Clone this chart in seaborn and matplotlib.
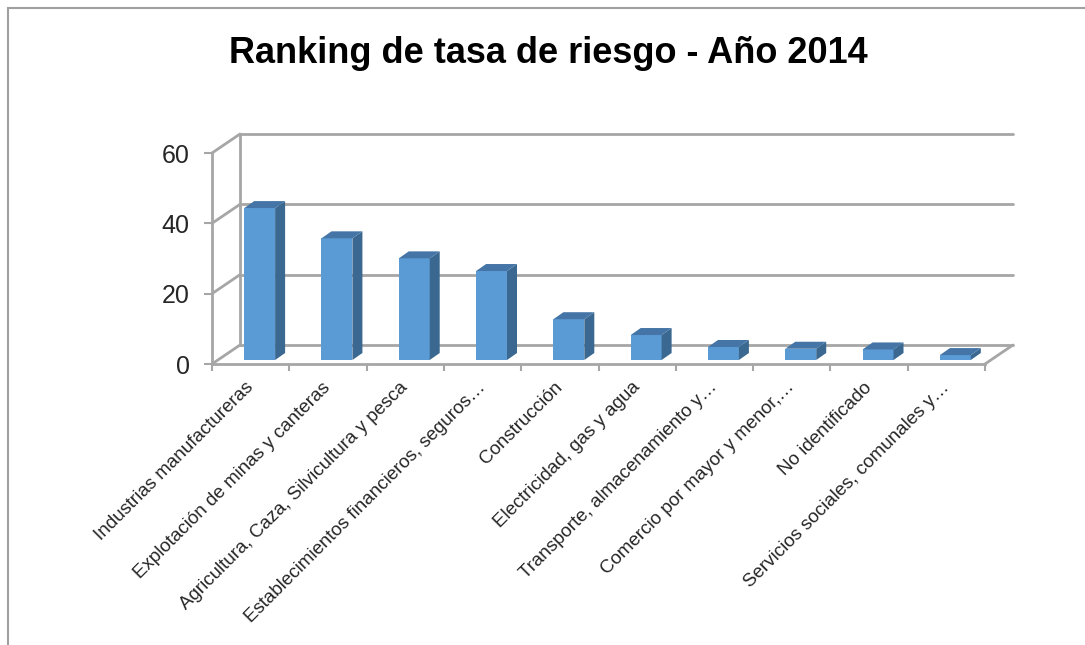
import matplotlib
matplotlib.use("Agg")
import matplotlib.pyplot as plt
import matplotlib.transforms as mtransforms
from matplotlib.patches import Polygon, Rectangle
import seaborn as sns
import pandas as pd

categories = [
    "Industrias manufactureras",
    "Explotación de minas y canteras",
    "Agricultura, Caza, Silvicultura y pesca",
    "Establecimientos financieros, seguros…",
    "Construcción",
    "Electricidad, gas y agua",
    "Transporte, almacenamiento y…",
    "Comercio por mayor y menor,…",
    "No identificado",
    "Servicios sociales, comunales y…",
]
values = [43.2, 34.6, 28.9, 25.3, 11.6, 7.1, 3.7, 3.2, 3.0, 1.4]
yticks = [0, 20, 40, 60]
title = "Ranking de tasa de riesgo - Año 2014"

FRONT = "#5b9bd5"
SIDE = "#3a6890"
TOP = "#4475a6"
GRID = "#a6a6a6"

sns.set_theme(style="white")
plt.rcParams["font.family"] = ["Liberation Sans", "DejaVu Sans"]

W, H = 1085, 645
fig = plt.figure(figsize=(W / 100, H / 100), dpi=100)
# axes: x -0.5..9.5 -> 212..985 px, y 0..60 -> 364..153 px
ax = fig.add_axes([212 / W, (H - 364) / H, (985 - 212) / W, (364 - 153) / H])
ax.set_xlim(-0.5, len(categories) - 0.5)
ax.set_ylim(0, 60)

df = pd.DataFrame({"cat": categories, "val": values})
sns.barplot(data=df, x="cat", y="val", color=FRONT, saturation=1, width=0.4,
            ax=ax, edgecolor="none", zorder=5)

# pixel -> data conversions
px_x = (len(categories)) / (985 - 212)
px_y = 60 / (364 - 153)

bar_shift = mtransforms.ScaledTranslation(9 / 100, 4 / 100, fig.dpi_scale_trans)
back_shift = mtransforms.ScaledTranslation(28 / 100, 19 / 100, fig.dpi_scale_trans)
dx, dy = 10 * px_x, 7 * px_y

for p in list(ax.patches):
    p.set_transform(ax.transData + bar_shift)
    p.set_clip_on(False)
    x0, w, h = p.get_x(), p.get_width(), p.get_height()
    side = Polygon([(x0 + w, 0), (x0 + w + dx, dy), (x0 + w + dx, h + dy), (x0 + w, h)],
                   closed=True, facecolor=SIDE, edgecolor="none",
                   transform=ax.transData + bar_shift, clip_on=False, zorder=5)
    top = Polygon([(x0, h), (x0 + w, h), (x0 + w + dx, h + dy), (x0 + dx, h + dy)],
                  closed=True, facecolor=TOP, edgecolor="none",
                  transform=ax.transData + bar_shift, clip_on=False, zorder=5)
    ax.add_patch(side)
    ax.add_patch(top)

xl, xr = -0.5, len(categories) - 0.5
back = ax.transData + back_shift
# back wall gridlines
for t in yticks:
    ax.plot([xl, xr], [t, t], color=GRID, lw=2, transform=back, clip_on=False, zorder=1)
# left wall: vertical back edge and diagonals
ax.plot([xl, xl], [0, 60], color=GRID, lw=2, transform=back, clip_on=False, zorder=1)
for t in yticks:
    ax.plot([xl, xl + 28 * px_x], [t, t + 19 * px_y], color=GRID, lw=2,
            clip_on=False, zorder=1)
# floor right diagonal
ax.plot([xr, xr + 28 * px_x], [0, 19 * px_y], color=GRID, lw=2, clip_on=False, zorder=1)

# front axes
for s in ["top", "right"]:
    ax.spines[s].set_visible(False)
for s in ["left", "bottom"]:
    ax.spines[s].set_color(GRID)
    ax.spines[s].set_linewidth(2)
ax.set_facecolor("none")
ax.grid(False)

ax.set_yticks(yticks)
ax.set_yticklabels([str(t) for t in yticks], fontsize=18)
ax.tick_params(axis="y", which="both", left=True, length=6, width=1.5, color=GRID, pad=10)
ax.set_xticks(range(len(categories)))
ax.set_xticklabels(categories, rotation=45, ha="right", va="center",
                   rotation_mode="anchor", fontsize=13.5)
ax.tick_params(axis="x", which="major", bottom=False, pad=9)
ax.set_xticks([i - 0.5 for i in range(len(categories) + 1)], minor=True)
ax.tick_params(axis="x", which="minor", bottom=True, length=5, width=1.5, color=GRID)
ax.set_xlabel("")
ax.set_ylabel("")

fig.text(548 / W, 1 - 63 / H, title, ha="center", va="baseline",
         fontsize=26, fontweight="bold", color="black")

fig.patches.append(Rectangle((8 / W, -0.1), 2, 1 - 8 / H + 0.1, transform=fig.transFigure,
                             facecolor="none", edgecolor="#a0a0a0", lw=1.5))

fig.savefig("out.png", dpi=100)
